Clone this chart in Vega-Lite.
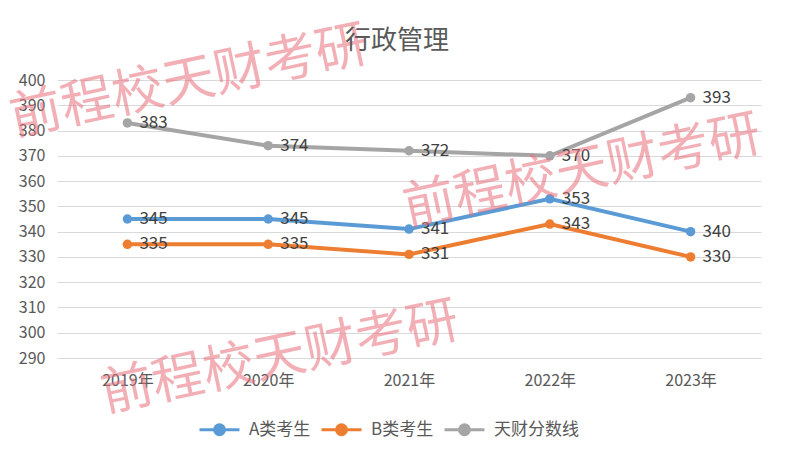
{
  "$schema": "https://vega.github.io/schema/vega-lite/v6.json",
  "width": 704,
  "height": 278,
  "autosize": "none",
  "padding": {"left": 57, "top": 80, "right": 24, "bottom": 100},
  "background": "white",
  "config": {
    "font": "Noto Sans CJK SC",
    "view": {"stroke": null},
    "axisY": {"labelOverlap": false, "labelFontSize": 16, "labelColor": "#595959", "ticks": false, "domain": false, "gridColor": "#d9d9d9", "labelPadding": 12, "labelBaseline": "middle"},
    "axisX": {"labelAngle": 0, "labelFontSize": 16, "labelColor": "#595959", "ticks": false, "domainColor": "#d9d9d9", "labelPadding": 14, "grid": false}
  },
  "title": {
    "text": "行政管理",
    "fontSize": 26,
    "fontWeight": "normal",
    "color": "#595959",
    "font": "Noto Sans CJK SC",
    "offset": -35,
    "dx": -12
  },
  "datasets": {
    "scores": [
      {"year": "2019年", "series": "A类考生", "score": 345},
      {"year": "2020年", "series": "A类考生", "score": 345},
      {"year": "2021年", "series": "A类考生", "score": 341},
      {"year": "2022年", "series": "A类考生", "score": 353},
      {"year": "2023年", "series": "A类考生", "score": 340},
      {"year": "2019年", "series": "B类考生", "score": 335},
      {"year": "2020年", "series": "B类考生", "score": 335},
      {"year": "2021年", "series": "B类考生", "score": 331},
      {"year": "2022年", "series": "B类考生", "score": 343},
      {"year": "2023年", "series": "B类考生", "score": 330},
      {"year": "2019年", "series": "天财分数线", "score": 383},
      {"year": "2020年", "series": "天财分数线", "score": 374},
      {"year": "2021年", "series": "天财分数线", "score": 372},
      {"year": "2022年", "series": "天财分数线", "score": 370},
      {"year": "2023年", "series": "天财分数线", "score": 393}
    ]
  },
  "layer": [
    {
      "data": {"name": "scores"},
      "mark": {"type": "line", "strokeWidth": 4, "point": {"filled": true, "size": 90}},
      "encoding": {
        "x": {
          "field": "year", "type": "ordinal", "title": null,
          "scale": {"paddingOuter": 0.5}
        },
        "y": {
          "field": "score", "type": "quantitative", "title": null,
          "scale": {"domain": [290, 400], "nice": false, "zero": false},
          "axis": {"tickCount": 11, "labelOverlap": false}
        },
        "color": {
          "field": "series", "type": "nominal", "title": null,
          "scale": {"domain": ["A类考生", "B类考生", "天财分数线"], "range": ["#5B9BD5", "#ED7D31", "#A5A5A5"]},
          "legend": {
            "orient": "none", "legendX": 141, "legendY": 328, "direction": "horizontal",
            "labelFontSize": 17, "labelColor": "#595959",
            "symbolType": "M-1,0H1M0.25,0A0.25,0.25,0,1,1,-0.25,0A0.25,0.25,0,1,1,0.25,0Z",
            "symbolSize": 1600, "symbolStrokeWidth": 3, "columnPadding": 4, "labelOffset": 8,
            "encode": {"symbols": {"update": {"stroke": {"scale": "color", "field": "value"}, "fill": {"scale": "color", "field": "value"}, "strokeWidth": {"value": 3}, "opacity": {"value": 1}}}}
          }
        }
      }
    },
    {
      "data": {"name": "scores"},
      "mark": {"type": "text", "align": "left", "baseline": "middle", "dx": 12, "fontSize": 17, "color": "#404040"},
      "encoding": {
        "x": {"field": "year", "type": "ordinal"},
        "y": {"field": "score", "type": "quantitative"},
        "text": {"field": "score", "type": "quantitative"}
      }
    },
    {
      "data": {"values": [{"year": "2019年", "score": 394, "text": "前程校天财考研"}]},
      "mark": {"type": "text", "align": "center", "baseline": "middle", "fontSize": 52, "angle": 348, "dx": 63, "color": "#e8707c", "opacity": 0.55, "clip": false},
      "encoding": {
        "x": {"field": "year", "type": "ordinal"},
        "y": {"field": "score", "type": "quantitative"},
        "text": {"field": "text"}
      }
    },
    {
      "data": {"values": [{"year": "2022年", "score": 361, "text": "前程校天财考研"}]},
      "mark": {"type": "text", "align": "center", "baseline": "middle", "fontSize": 52, "angle": 348, "dx": 33, "color": "#e8707c", "opacity": 0.55, "clip": false},
      "encoding": {
        "x": {"field": "year", "type": "ordinal"},
        "y": {"field": "score", "type": "quantitative"},
        "text": {"field": "text"}
      }
    },
    {
      "data": {"values": [{"year": "2020年", "score": 289, "text": "前程校天财考研"}]},
      "mark": {"type": "text", "align": "center", "baseline": "middle", "fontSize": 52, "angle": 348, "dx": 12, "color": "#e8707c", "opacity": 0.55, "clip": false},
      "encoding": {
        "x": {"field": "year", "type": "ordinal"},
        "y": {"field": "score", "type": "quantitative"},
        "text": {"field": "text"}
      }
    }
  ]
}
